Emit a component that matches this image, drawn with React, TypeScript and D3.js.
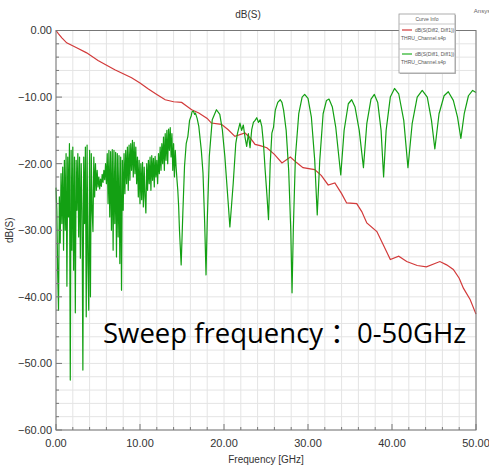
import React from 'react';
import * as d3 from 'd3';

// chart size and plot frame
const W = 489;
const H = 465;
const M = { left: 56, right: 13, top: 30.5, bottom: 35 };

const xTicks = [0, 10, 20, 30, 40, 50];
const yTicks = [0, -10, -20, -30, -40, -50, -60];

// dB(S(Diff2,Diff1)) – insertion loss, [GHz, dB]
const lossCurve: [number, number][] = [
  [0, 0], [0.3, -0.5], [0.7, -1.1], [1.27, -1.85], [2.46, -2.6], [3.65, -3.36],
  [5, -4.5], [7, -5.9], [9, -7.1], [10, -7.9], [11, -8.8], [12, -9.6], [13, -10.4],
  [14, -10.7], [14.96, -10.8], [15.5, -11.3], [16.15, -11.9], [17, -12.4], [18, -13.2],
  [18.5, -13.9], [19.7, -14.1], [20.5, -14.9], [21.3, -15.9], [22.5, -15.4], [23.1, -16.1],
  [23.7, -17.1], [24.3, -17.3], [25.1, -17.6], [26, -18.6], [26.9, -19.9], [27.9, -19.0],
  [28.6, -19.8], [29.4, -20.6], [30.8, -20.9], [31.6, -21.8], [32.4, -23.2], [33.2, -22.9],
  [34, -24.5], [34.6, -25.9], [35.8, -26.0], [36.4, -27.2], [37.0, -28.9], [38.2, -30.2],
  [39, -32.3], [39.8, -34.4], [40.8, -33.9], [41.75, -34.7], [43, -35.3], [44.1, -35.5],
  [45.7, -34.7], [46.5, -35.2], [47.3, -35.9], [48, -37.2], [48.5, -38.7], [49.3, -40.4],
  [50, -42.6],
];

// dB(S(Diff1,Diff1)) below 14.8 GHz, one sample every 0.1 GHz
const LOW_STEP = 0.1;
const returnLow: number[] = [
  -23.6, -27, -36.4, -42.0, -25, -31.9, -21.5, -29, -20.5, -33,
  -19.5, -30, -18.5, -38.4, -19, -28, -17, -52.5, -18, -33,
  -17.5, -36, -19, -42.4, -19.5, -27, -18.5, -31, -19, -34.2,
  -20, -27, -51, -19, -29, -17.5, -43, -17.2, -35, -42,
  -18, -40, -18.5, -27, -30.2, -19, -25, -20, -24, -21,
  -23.5, -22, -23.8, -22.3, -23.4, -21.6, -22.8, -21, -22.4, -20,
  -23, -18.5, -26, -18, -28, -18.2, -30, -17.9, -33, -18,
  -29, -18.3, -34, -18.5, -31, -18.8, -35, -19, -39, -19.5,
  -27, -18.5, -24.5, -18, -23, -17.5, -24, -17.2, -22.5, -17,
  -21, -16.5, -22, -16.8, -21.5, -17.5, -23, -19, -25, -19.5,
  -26, -20, -25.4, -19.8, -26.5, -20.5, -25, -27.4, -20, -24,
  -19.5, -23, -19, -24, -18.8, -22.5, -19.2, -23.5, -18.9, -22,
  -19.5, -23, -18.5, -21.5, -17.5, -21, -17, -20, -16, -21,
  -15.5, -19.5, -15, -20, -14.8, -18, -14.6, -19, -15.5, -21,
  -17, -22, -18, -20.5, -22.4, -24, -26.4, -30,
];

// dB(S(Diff1,Diff1)) from 14.9 GHz up, [GHz, dB]
const returnHigh: [number, number][] = [
  [14.9, -35.2], [15.1, -27.4], [15.3, -20.4], [15.5, -17], [15.7, -15.9], [15.9, -13.5],
  [16.1, -12.8], [16.2, -12.2], [16.35, -12.1], [16.5, -12.6], [16.6, -12.4], [16.8, -13.2],
  [17.0, -14.4], [17.3, -18], [17.5, -21.4], [17.7, -28.9], [17.86, -36.7], [18.0, -28.9],
  [18.25, -18.9], [18.6, -13.4], [19.1, -11.9], [19.5, -12.6], [19.8, -14.9], [20.1, -18.9],
  [20.5, -25.9], [20.7, -29.5], [21.1, -22.9], [21.4, -17], [21.6, -15.5], [21.9, -13.9],
  [22.1, -15], [22.3, -14.2], [22.5, -16], [22.7, -17.4], [22.9, -15.5], [23.1, -17.6],
  [23.3, -14.9], [23.5, -13.8], [23.7, -13.5], [23.9, -13.1], [24.1, -13.8], [24.3, -13.4],
  [24.5, -14.4], [24.7, -17], [24.9, -21], [25.1, -24.5], [25.3, -28.4], [25.5, -20],
  [25.7, -15.4], [25.9, -14.5], [26.1, -12], [26.4, -10.8], [26.7, -10.4], [26.9, -10.8],
  [27.1, -12], [27.4, -15], [27.7, -21], [27.95, -30], [28.1, -39.4], [28.25, -30],
  [28.5, -19], [28.9, -12.5], [29.3, -10], [29.6, -9.6], [30.0, -10.2], [30.4, -13],
  [30.8, -19.5], [31.1, -27.7], [31.4, -19.5], [31.8, -12.5], [32.2, -10.5], [32.5, -10.3],
  [32.9, -11.5], [33.3, -14.5], [33.9, -21.7], [34.3, -15], [34.8, -11], [35.2, -10.4],
  [35.6, -11.5], [36.1, -15], [36.6, -20.6], [37.0, -14], [37.5, -10.3], [37.9, -9.6],
  [38.3, -10.8], [38.7, -15], [39.0, -22], [39.3, -15], [39.8, -10], [40.3, -8.7],
  [40.8, -9.5], [41.4, -13.5], [41.9, -20.6], [42.4, -14], [43.0, -10], [43.6, -9.0],
  [44.2, -10], [44.7, -13.5], [45.1, -17.8], [45.6, -12.5], [46.2, -9.8], [46.7, -9.2],
  [47.3, -10.5], [47.8, -13], [48.2, -16.2], [48.6, -12.5], [49.1, -9.8], [49.6, -9.0],
  [50.0, -9.3],
];

const legendItems = [
  { name: 'dB(S(Diff2, Diff1))', file: 'THRU_Channel.s4p', color: '#d23a3a' },
  { name: 'dB(S(Diff1, Diff1))', file: 'THRU_Channel.s4p', color: '#22b022' },
];

const App = () => {
  const x = d3.scaleLinear().domain([0, 50]).range([M.left, W - M.right]);
  const y = d3.scaleLinear().domain([-60, 0]).range([H - M.bottom, M.top]);

  const line = d3.line<[number, number]>()
    .x(d => x(d[0]))
    .y(d => y(d[1]));

  const greenPts: [number, number][] = returnLow
    .map((v, i) => [i * LOW_STEP, v] as [number, number])
    .concat(returnHigh);

  const xMinor = d3.range(0, 50.01, 2);
  const yMinor = d3.range(-60, 0.01, 2);
  const x0 = M.left, x1 = W - M.right, y0 = H - M.bottom, y1 = M.top;
  const fmt = d3.format('.2f');

  return (
    <svg width={W} height={H} style={{ position: 'absolute', left: 0, top: 0, background: '#fff' }}
      fontFamily="'Liberation Sans', Arial, sans-serif">
      {/* grid */}
      <g stroke="#e4e4e4" strokeWidth={1}>
        {xMinor.map(v => <line key={'gx' + v} x1={x(v)} x2={x(v)} y1={y1} y2={y0} />)}
        {yMinor.map(v => <line key={'gy' + v} x1={x0} x2={x1} y1={y(v)} y2={y(v)} />)}
      </g>

      {/* curves */}
      <path d={line(lossCurve) ?? ''} fill="none" stroke="#d23a3a" strokeWidth={1.2} />
      <path d={line(greenPts) ?? ''} fill="none" stroke="#13a013" strokeWidth={1.2} strokeLinejoin="round" />

      {/* frame */}
      <rect x={x0} y={y1} width={x1 - x0} height={y0 - y1} fill="none" stroke="#777" strokeWidth={1} />

      {/* ticks */}
      <g stroke="#777" strokeWidth={1}>
        {yMinor.map(v => (
          <line key={'ty' + v} x1={x0} x2={x0 + (v % 10 === 0 ? 6 : 3)} y1={y(v)} y2={y(v)} />
        ))}
        {xMinor.map(v => (
          <line key={'tx' + v} x1={x(v)} x2={x(v)} y1={y0} y2={y0 - (v % 10 === 0 ? 6 : 3)} />
        ))}
      </g>

      <g fontSize={11} fill="#333">
        {yTicks.map(v => (
          <text key={'ly' + v} x={x0 - 4} y={y(v)} dy="0.35em" textAnchor="end">{fmt(v)}</text>
        ))}
        {xTicks.map(v => (
          <text key={'lx' + v} x={x(v)} y={447} textAnchor="middle">{fmt(v)}</text>
        ))}
      </g>

      {/* titles */}
      <text x={248} y={18} fontSize={10} textAnchor="middle" fill="#333">dB(S)</text>
      <text x={482} y={13} fontSize={6} textAnchor="middle" fill="#666">Ansys</text>
      <text x={(x0 + x1) / 2} y={463} fontSize={10} textAnchor="middle" fill="#333">Frequency [GHz]</text>
      <text transform={`translate(13,${(y0 + y1) / 2}) rotate(-90)`} fontSize={10} textAnchor="middle" fill="#333">dB(S)</text>

      {/* legend */}
      <g>
        <rect x={400} y={15} width={56} height={59} fill="#bbb" />
        <rect x={399} y={14} width={56} height={59} fill="#fff" stroke="#999" strokeWidth={0.8} />
        <text x={427} y={21} fontSize={5} textAnchor="middle" fill="#555">Curve Info</text>
        <line x1={399} x2={455} y1={24} y2={24} stroke="#bbb" strokeWidth={0.8} />
        {legendItems.map((it, i) => {
          const ty = 30 + i * 24;
          return (
            <g key={it.name}>
              <line x1={402} x2={412} y1={ty} y2={ty} stroke={it.color} strokeWidth={1.2} />
              <text x={415} y={ty + 1.8} fontSize={5} fill="#555">{it.name}</text>
              <text x={401} y={ty + 9.5} fontSize={5} fill="#555">{it.file}</text>
              {i === 0 && <line x1={399} x2={455} y1={ty + 19} y2={ty + 19} stroke="#bbb" strokeWidth={0.8} />}
            </g>
          );
        })}
      </g>

      {/* annotation */}
      <text y={343} fontSize={27.5} fill="#000" fontFamily="'Open Sans', 'Noto Sans', sans-serif">
        <tspan x={103}>Sweep frequency</tspan>
        <tspan x={330} fontFamily="'Noto Sans CJK SC', sans-serif">：</tspan>
        <tspan x={357}>0-50GHz</tspan>
      </text>
    </svg>
  );
};

export default App;
